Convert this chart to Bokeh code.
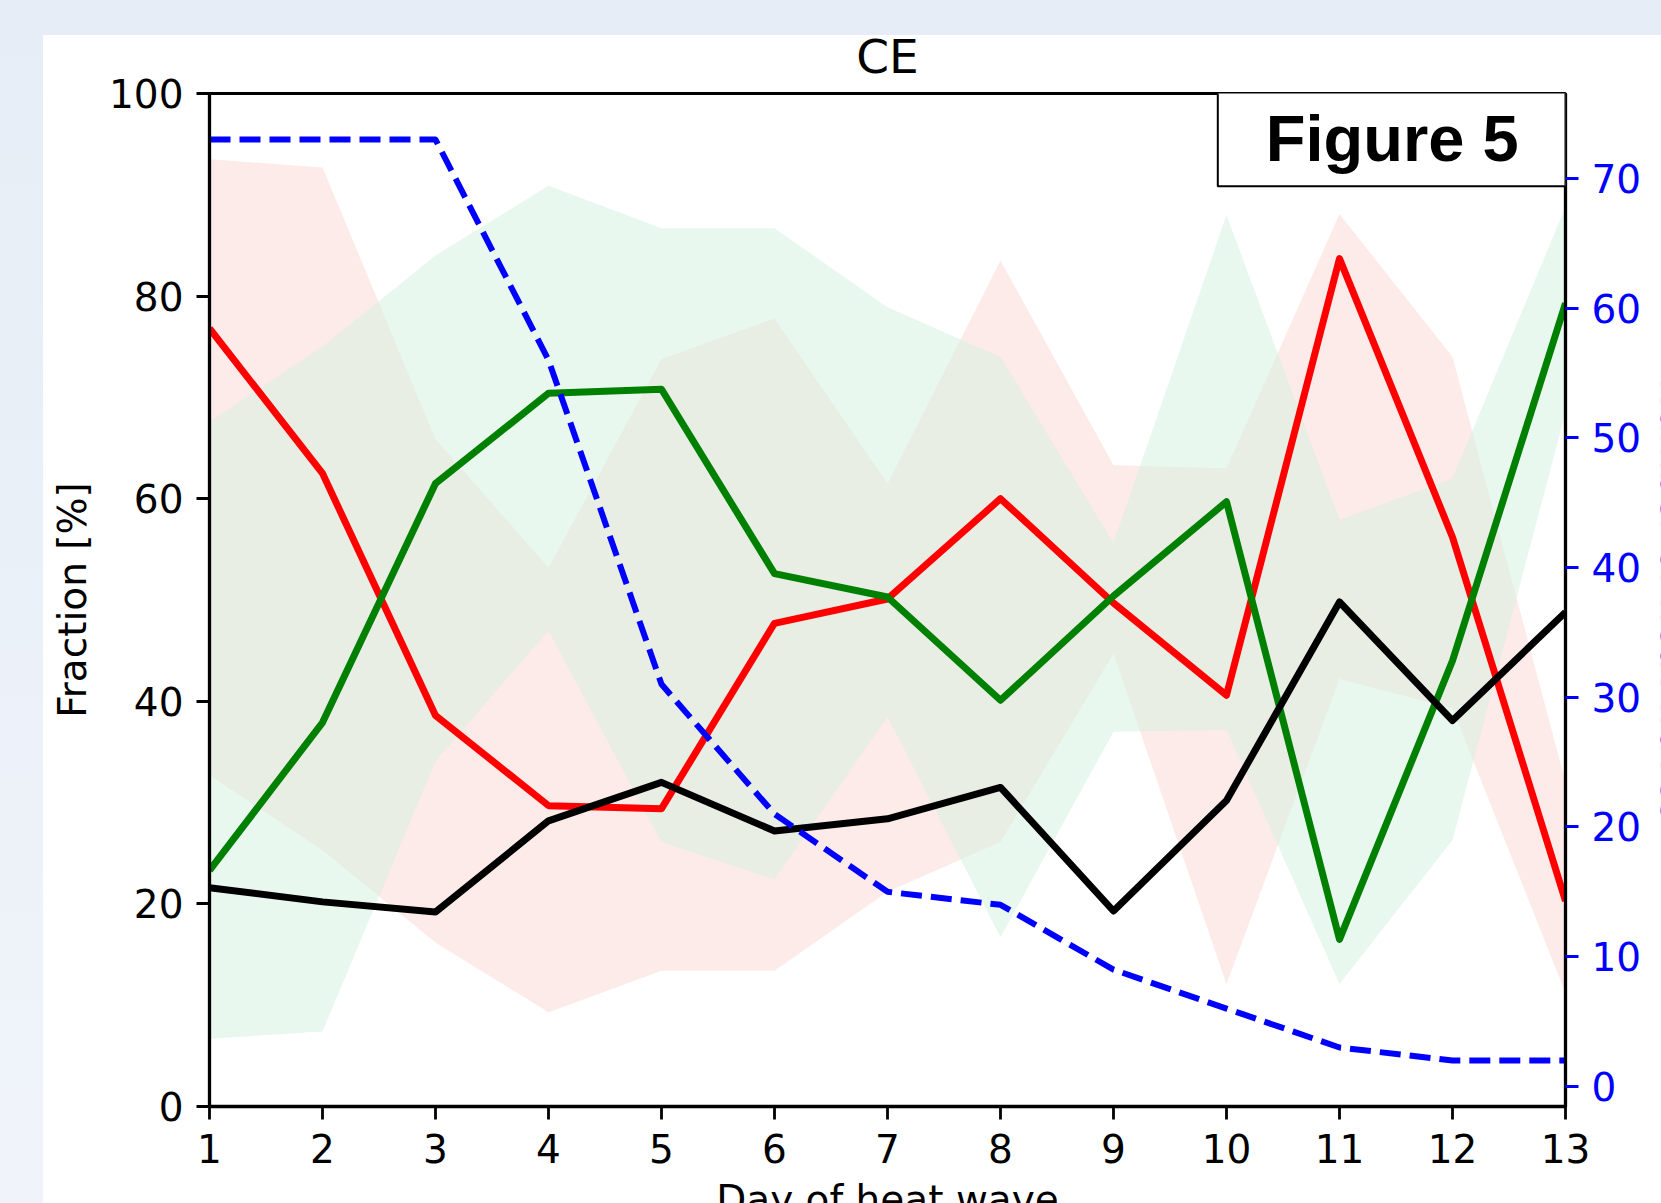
from bokeh.plotting import figure
from bokeh.models import Range1d, LinearAxis, FixedTicker, Label, BoxAnnotation
from bokeh.layouts import column
from bokeh.embed import file_html
from bokeh.resources import INLINE

# ---------------- data ----------------
days = [1, 2, 3, 4, 5, 6, 7, 8, 9, 10, 11, 12, 13]

red_frac = [76.8, 62.5, 38.6, 29.7, 29.4, 47.7, 50.1, 60.0, 49.7, 40.6, 83.7, 56.2, 20.3]
green_frac = [23.3, 37.9, 61.5, 70.4, 70.8, 52.6, 50.3, 40.1, 50.4, 59.7, 16.5, 44.0, 79.3]
black_frac = [21.6, 20.2, 19.2, 28.2, 32.0, 27.2, 28.4, 31.5, 19.3, 30.2, 49.8, 38.1, 48.8]

red_upper = [93.5, 92.7, 65.9, 53.2, 73.8, 77.8, 61.5, 83.5, 63.3, 63.0, 88.1, 74.0, 32.0]
red_lower = [32.7, 25.3, 16.2, 9.3, 13.4, 13.4, 21.2, 26.1, 44.7, 12.1, 42.2, 39.3, 11.2]
green_upper = [67.6, 75.0, 84.0, 90.9, 86.7, 86.7, 78.9, 74.0, 55.6, 88.0, 57.9, 62.0, 88.8]
green_lower = [6.7, 7.4, 34.1, 47.0, 26.1, 22.4, 38.5, 16.7, 37.0, 37.2, 12.1, 26.3, 68.5]

n_heatwaves = [73, 73, 73, 56, 31, 21, 15, 14, 9, 6, 3, 2, 2]

frac_ticks = [0, 20, 40, 60, 80, 100]
count_ticks = [0, 10, 20, 30, 40, 50, 60, 70]

title_text = "CE"
x_label = "Day of heat wave"
y_label = "Fraction [%]"
y2_label = "Number of heat waves"
tag_text = "Figure 5"

# ---------------- figure ----------------
FONT = "DejaVu Sans"
TICK_SIZE = "39px"

span = max(n_heatwaves) - min(n_heatwaves)
count_range = Range1d(min(n_heatwaves) - 0.05 * span, max(n_heatwaves) + 0.05 * span)

FIG_W, FIG_H = 1715, 1246

# the canvas is larger than the window on the right and bottom; the page
# container clips it (the reference is a cropped screenshot of the figure)
p = figure(width=FIG_W, height=FIG_H, output_backend="svg", toolbar_location=None,
           x_range=Range1d(days[0], days[-1]), y_range=Range1d(frac_ticks[0], frac_ticks[-1]),
           min_border_left=209, min_border_right=150, min_border_top=93, min_border_bottom=140)
p.styles = {"flex-shrink": "0", "min-width": f"{FIG_W}px", "min-height": f"{FIG_H}px",
            "max-width": "none", "max-height": "none"}
p.extra_y_ranges = {"count": count_range}
p.background_fill_color = "white"
p.border_fill_alpha = 0.0
p.outline_line_color = "black"
p.outline_line_width = 3
p.outline_line_alpha = 1.0
p.xgrid.visible = False
p.ygrid.visible = False

# title
p.title.text = title_text
p.title.align = "center"
p.title.text_font = FONT
p.title.text_font_size = "47px"
p.title.text_font_style = "normal"
p.title.text_color = "black"
p.title.standoff = 20

# bands
p.varea(x=days, y1=red_lower, y2=red_upper, fill_color=(249, 215, 209), fill_alpha=0.5)
p.varea(x=days, y1=green_lower, y2=green_upper, fill_color=(211, 241, 223), fill_alpha=0.5)

# lines
p.line(days, red_frac, line_color="#ff0000", line_width=7, line_join="round")
p.line(days, green_frac, line_color="#008000", line_width=7, line_join="round")
p.line(days, black_frac, line_color="#000000", line_width=7, line_join="round")
p.line(days, n_heatwaves, y_range_name="count", line_color="#0000ff", line_width=6,
       line_dash="21 9", line_join="round")

# axes
def style_axis(ax, color="black"):
    ax.axis_line_width = 3.3
    ax.axis_line_color = "black"
    ax.major_tick_line_width = 2.8
    ax.major_tick_line_color = color
    ax.major_tick_out = 13
    ax.major_tick_in = 0
    ax.minor_tick_out = 0
    ax.minor_tick_in = 0
    ax.major_label_text_font = FONT
    ax.major_label_text_font_size = TICK_SIZE
    ax.major_label_text_color = color
    ax.axis_label_text_font = FONT
    ax.axis_label_text_font_size = TICK_SIZE
    ax.axis_label_text_font_style = "normal"
    ax.axis_label_text_color = color

xa = p.xaxis[0]
style_axis(xa)
xa.ticker = FixedTicker(ticks=days)
xa.major_label_standoff = 14
xa.axis_label = x_label
xa.axis_label_standoff = 11

ya = p.yaxis[0]
style_axis(ya)
ya.ticker = FixedTicker(ticks=frac_ticks)
ya.major_label_standoff = 13
ya.axis_label = y_label
ya.axis_label_standoff = 11

ra = LinearAxis(y_range_name="count", ticker=FixedTicker(ticks=count_ticks))
style_axis(ra, color="#0000ff")
ra.major_label_standoff = 13
ra.axis_label = y2_label
ra.axis_label_standoff = 8
p.add_layout(ra, "right")

# "Figure 5" tag box
p.add_layout(BoxAnnotation(left=9.923, right=13, bottom=90.84, top=100.48,
                           fill_color="white", fill_alpha=1.0,
                           line_color="black", line_width=2, line_alpha=1.0))
p.add_layout(Label(x=11.466, y=95.6, text=tag_text, text_font="Liberation Sans",
                   text_font_style="bold", text_font_size="65px", text_align="center",
                   text_baseline="middle", text_color="black"))

page_bg = ("linear-gradient(#ffffff, #ffffff) 43px 35px / 100% 100% no-repeat, "
           "linear-gradient(#e6edf6, #f0f4fa)")
layout = column(p, styles={"width": "1661px", "height": "1203px",
                           "overflow": "hidden", "background": page_bg})

open("out.html", "w").write(file_html(layout, INLINE))
